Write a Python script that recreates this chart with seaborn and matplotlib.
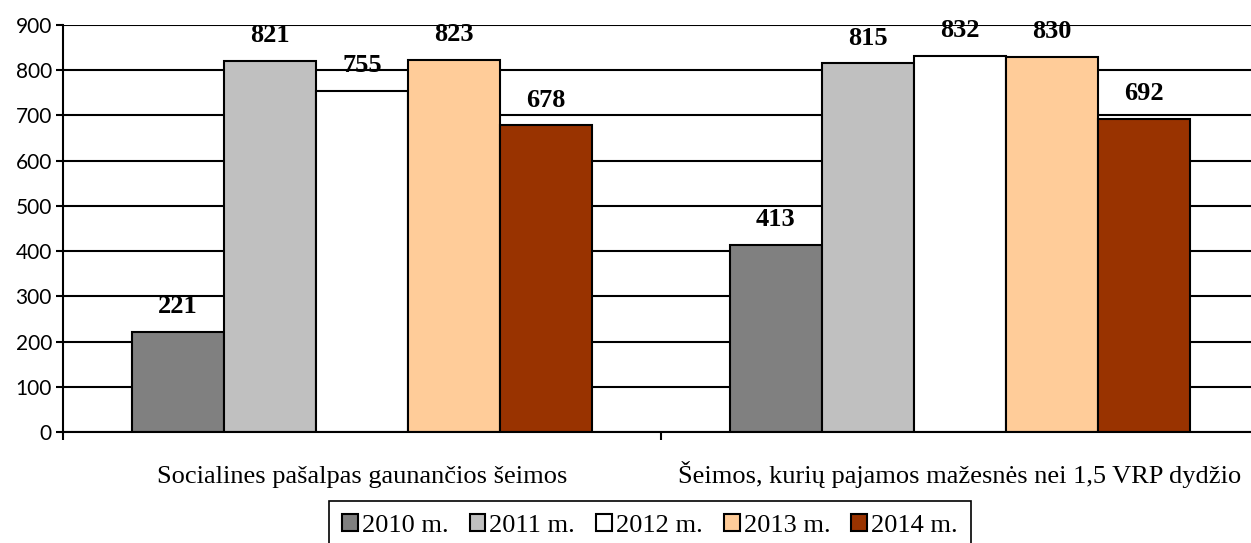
import pandas as pd
import seaborn as sns
import matplotlib.pyplot as plt
from matplotlib.ticker import MultipleLocator, FixedLocator

categories = ["Socialines pašalpas gaunančios šeimos",
              "Šeimos, kurių pajamos mažesnės nei 1,5 VRP dydžio"]
years = ["2010 m.", "2011 m.", "2012 m.", "2013 m.", "2014 m."]
values_2010 = [221, 413]
values_2011 = [821, 815]
values_2012 = [755, 832]
values_2013 = [823, 830]
values_2014 = [678, 692]
colors = ["#808080", "#C0C0C0", "#FFFFFF", "#FFCC99", "#993300"]

rows = []
for year, vals in zip(years, [values_2010, values_2011, values_2012,
                              values_2013, values_2014]):
    for cat, v in zip(categories, vals):
        rows.append((cat, year, v))
df = pd.DataFrame(rows, columns=["Kategorija", "Metai", "Reikšmė"])

sns.set_style("white")
plt.rcParams['font.family'] = ['Liberation Serif', 'DejaVu Serif']
plt.rcParams['text.color'] = 'black'
plt.rcParams['xtick.color'] = 'black'
plt.rcParams['ytick.color'] = 'black'

fig = plt.figure(figsize=(12.51, 5.43), dpi=100)
ax = fig.add_axes([0.0504, 0.2044, 0.9496, 0.7495])

sns.barplot(data=df, x="Kategorija", y="Reikšmė", hue="Metai",
            palette=colors, saturation=1, width=0.77, edgecolor="black",
            linewidth=1.5, ax=ax, legend=True)

for cont in ax.containers:
    ax.bar_label(cont, padding=10, fontsize=19, fontweight="bold",
                 color="black")

ax.set_ylim(0, 900)
ax.set_xlim(-0.5, 1.487)
ax.yaxis.set_major_locator(MultipleLocator(100))
ax.set_axisbelow(True)
ax.yaxis.grid(True, color="black", linewidth=1.5)
ax.get_ygridlines()[-1].set_color("#999999")
ax.get_ygridlines()[-1].set_linewidth(2.2)

for s in ["top", "right"]:
    ax.spines[s].set_visible(False)
for s in ["left", "bottom"]:
    ax.spines[s].set_color("black")
    ax.spines[s].set_linewidth(1.5)

ax.tick_params(axis="y", left=True, length=5, width=1.5, color="black",
               labelsize=15, pad=3, labelcolor="black")
for lab in ax.get_yticklabels():
    lab.set_family(["Lato", "DejaVu Sans"])

ax.tick_params(axis="x", which="major", bottom=False, labelsize=19, pad=33,
               labelcolor="black")
# baseline alignment so the caron on "Š" does not push the second label down
for lab in ax.get_xticklabels():
    lab.set_verticalalignment("baseline")
ax.xaxis.set_minor_locator(FixedLocator([-0.5, 0.5, 1.5]))
ax.tick_params(axis="x", which="minor", bottom=True, length=6, width=1.5,
               color="black")
ax.set_xlabel("")
ax.set_ylabel("")

# legend box in the reference sits under the middle and runs off the bottom
handles, labels = ax.get_legend_handles_labels()
ax.legend_.remove()
leg = fig.legend(handles, labels, ncol=5, loc="upper center",
                 bbox_to_anchor=(650 / 1251, 1 - 501 / 543),
                 fontsize=19, frameon=True, fancybox=False,
                 edgecolor="black", framealpha=1, handlelength=0.6,
                 handleheight=0.6, handletextpad=0.15, columnspacing=0.8,
                 borderpad=0.5, borderaxespad=0)
leg.get_frame().set_linewidth(1.2)
for t in leg.get_texts():
    t.set_color("black")

fig.savefig("out.png", dpi=100)
